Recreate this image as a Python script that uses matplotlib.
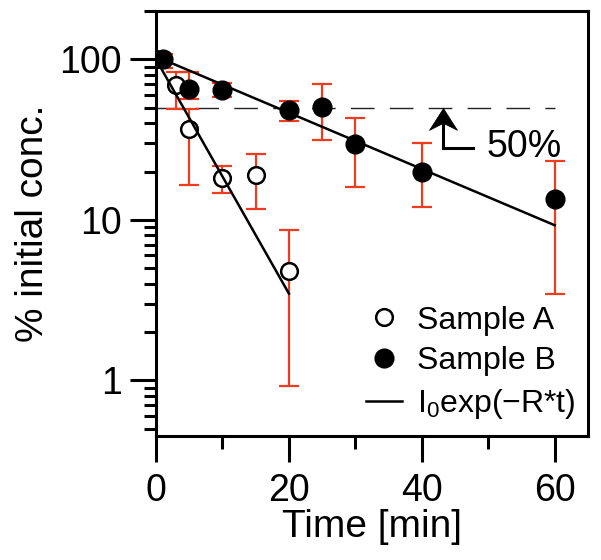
import matplotlib
matplotlib.use("Agg")
import matplotlib.pyplot as plt
from matplotlib.ticker import LogLocator, NullFormatter, FixedLocator

plt.rcParams['font.family'] = ['Liberation Sans', 'DejaVu Sans']
plt.rcParams['mathtext.fontset'] = 'custom'
plt.rcParams['mathtext.rm'] = 'Liberation Sans'
plt.rcParams['mathtext.default'] = 'regular'

# Sample A (open circles)
time_a = [0, 3, 5, 10, 15, 20]
conc_a = [100, 68.8, 37, 18.1, 18.9, 4.8]
low_a = [90, 49, 16.4, 14.6, 11.6, 0.92]
high_a = [110, 83, 49, 21.5, 25.8, 8.6]

# Sample B (filled circles)
time_b = [1, 5, 10, 20, 25, 30, 40, 60]
conc_b = [100, 65.6, 64.7, 48, 50.5, 29.5, 19.9, 13.4]
low_b = [88, 57, 58, 41.3, 31.3, 16, 12.1, 3.47]
high_b = [108, 83, 71, 55, 69.8, 43.4, 29.9, 23.1]

# fitted exponential decays, shown by their end points
fit_a_t = [0, 20]
fit_a_v = [100, 3.47]
fit_b_t = [1, 60]
fit_b_v = [100, 9.25]

half_level = 50
red = '#f03c1e'

fig = plt.figure(figsize=(6.01, 5.6), dpi=100)
ax = fig.add_axes([156 / 601, 1 - 436 / 560, 432 / 601, 425 / 560])

# error bars
for t, v, lo, hi in [(time_a, conc_a, low_a, high_a), (time_b, conc_b, low_b, high_b)]:
    yerr = [[c - l for c, l in zip(v, lo)], [h - c for c, h in zip(v, hi)]]
    ax.errorbar(t, v, yerr=yerr, fmt='none', ecolor=red, elinewidth=1.6,
                capsize=7, capthick=1.6, zorder=2)

# dashed 50% line
ax.plot([0, 60], [half_level, half_level], color='#222222', lw=1.0,
        dashes=(17, 11), zorder=1)

ax.plot(time_a, conc_a, 'o', ms=12, mfc='white', mec='black', mew=1.8,
        ls='none', label='Sample A', zorder=3)
ax.plot(time_b, conc_b, 'o', ms=13.5, mfc='black', mec='black',
        ls='none', label='Sample B', zorder=3)
ax.plot(fit_a_t, fit_a_v, color='black', lw=1.8, zorder=4,
        label=r'I$_{0}$exp(−R*t)')
ax.plot(fit_b_t, fit_b_v, color='black', lw=1.8, zorder=4)

# bent arrow pointing at the 50% line, with a stealth-shaped head
arrow_x = 43.2
ax.plot([47.7, arrow_x, arrow_x], [28.2, 28.2, 45], color='black', lw=2.2,
        solid_joinstyle='miter', zorder=5)
head = [(0, 0), (0.64, -1), (0, -0.68), (-0.64, -1), (0, 0)]
ax.plot([arrow_x], [half_level], marker=head, ms=31.5, mfc='black',
        mec='black', mew=0.5, ls='none', zorder=5)
ax.text(49.8, 28.3, '50%', fontsize=27, ha='left', va='center')

ax.set_yscale('log')
ax.set_xlim(0, 65)
ax.set_ylim(0.45, 200)

ax.set_xticks([0, 20, 40, 60])
ax.xaxis.set_minor_locator(FixedLocator([10, 30, 50]))
ax.set_yticks([1, 10, 100])
ax.set_yticklabels(['1', '10', '100'])
ax.yaxis.set_minor_locator(LogLocator(base=10, subs=range(2, 10)))
ax.yaxis.set_minor_formatter(NullFormatter())

ax.tick_params(which='major', direction='out', length=18.5, width=2.2,
               labelsize=27, pad=6)
ax.tick_params(which='minor', direction='out', length=9, width=2.2)
ax.tick_params(axis='x', which='major', pad=8)
for s in ax.spines.values():
    s.set_linewidth(2.2)

ax.set_xlabel('Time [min]', fontsize=28, labelpad=0)
ax.set_ylabel('% initial conc.', fontsize=28, labelpad=6)

ax.legend(loc='lower left', bbox_to_anchor=(0.485, 0.036), frameon=False,
          fontsize=23, handlelength=1.15, handletextpad=0.45,
          labelspacing=0.33, borderpad=0, borderaxespad=0)

fig.savefig('out.png', dpi=100)
